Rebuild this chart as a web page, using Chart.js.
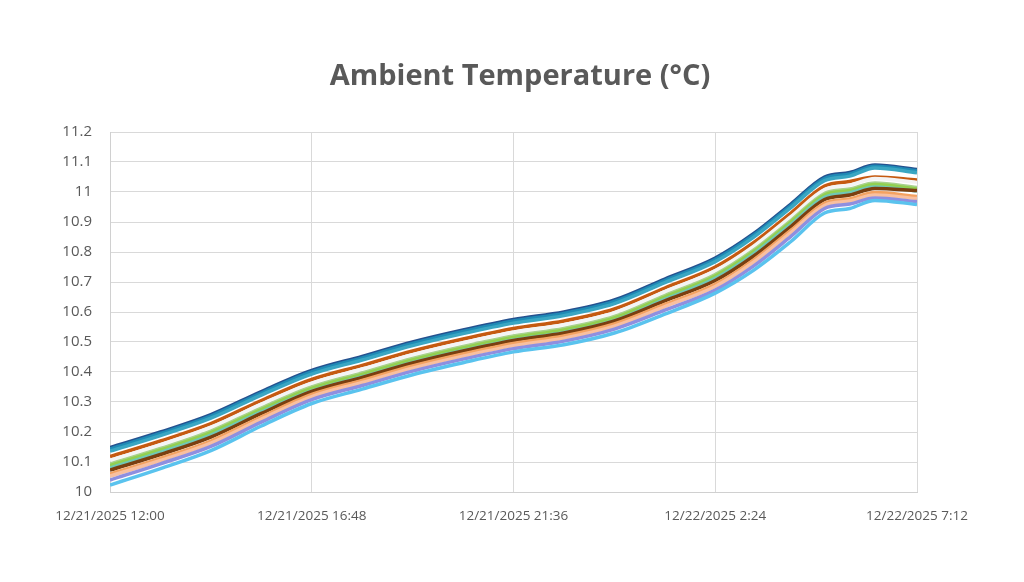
<!DOCTYPE html>
<html lang="en">
<head>
    <meta charset="UTF-8">
    <title>Ambient Temperature</title>
    <script src="https://cdn.jsdelivr.net/npm/chart.js"></script>
    <style>
        body { margin: 0; background: #fff; }
    </style>
</head>
<body>
    <canvas id="tempChart" width="1024" height="582"></canvas>

    <script>
        // hours after 12/21/2025 12:00
        const hours = [0, 1.2, 2.4, 3.6, 4.8, 6, 7.2, 8.4, 9.6, 10.8, 12, 13.2, 14.4, 15.3, 16.2, 17, 17.6, 18.2, 19.2];

        const xTickValues = [0, 4.8, 9.6, 14.4, 19.2];
        const xTickLabels = ["12/21/2025 12:00", "12/21/2025 16:48", "12/21/2025 21:36", "12/22/2025 2:24", "12/22/2025 7:12"];

        // one array per sensor (top to bottom)
        const sensor1 = [10.148, 10.200, 10.258, 10.335, 10.405, 10.452, 10.500, 10.540, 10.575, 10.600, 10.640, 10.710, 10.780, 10.860, 10.960, 11.050, 11.065, 11.090, 11.075];
        const sensor2 = [10.143, 10.195, 10.253, 10.330, 10.400, 10.447, 10.495, 10.535, 10.570, 10.595, 10.635, 10.705, 10.775, 10.855, 10.955, 11.045, 11.060, 11.086, 11.071];
        const sensor3 = [10.136, 10.188, 10.246, 10.323, 10.393, 10.440, 10.488, 10.528, 10.563, 10.588, 10.628, 10.698, 10.768, 10.848, 10.948, 11.038, 11.053, 11.080, 11.064];
        const sensor4 = [10.118, 10.170, 10.228, 10.305, 10.375, 10.422, 10.470, 10.510, 10.545, 10.570, 10.610, 10.680, 10.750, 10.830, 10.930, 11.020, 11.035, 11.050, 11.040];
        const sensor5 = [10.106, 10.158, 10.216, 10.293, 10.363, 10.410, 10.458, 10.498, 10.533, 10.558, 10.598, 10.668, 10.738, 10.818, 10.918, 11.008, 11.023, 11.045, 11.032];
        const sensor6 = [10.093, 10.145, 10.203, 10.280, 10.350, 10.397, 10.445, 10.485, 10.520, 10.545, 10.585, 10.655, 10.725, 10.805, 10.905, 10.995, 11.010, 11.030, 11.015];
        const sensor7 = [10.088, 10.140, 10.198, 10.275, 10.345, 10.392, 10.440, 10.480, 10.515, 10.540, 10.580, 10.650, 10.720, 10.800, 10.900, 10.990, 11.005, 11.025, 11.010];
        const sensor8 = [10.080, 10.132, 10.190, 10.267, 10.337, 10.384, 10.432, 10.472, 10.507, 10.532, 10.572, 10.642, 10.712, 10.792, 10.892, 10.982, 10.997, 11.017, 11.003];
        const sensor9 = [10.073, 10.125, 10.183, 10.262, 10.335, 10.382, 10.430, 10.470, 10.505, 10.530, 10.570, 10.637, 10.705, 10.785, 10.885, 10.975, 10.990, 11.012, 11.005];
        const sensor10 = [10.060, 10.112, 10.170, 10.250, 10.325, 10.372, 10.420, 10.460, 10.495, 10.520, 10.560, 10.625, 10.692, 10.772, 10.872, 10.962, 10.977, 10.998, 10.985];
        const sensor11 = [10.053, 10.105, 10.163, 10.243, 10.318, 10.365, 10.413, 10.453, 10.488, 10.513, 10.553, 10.618, 10.685, 10.765, 10.865, 10.955, 10.970, 10.990, 10.978];
        const sensor12 = [10.040, 10.094, 10.152, 10.233, 10.308, 10.355, 10.403, 10.443, 10.478, 10.503, 10.543, 10.606, 10.673, 10.752, 10.852, 10.945, 10.960, 10.980, 10.968];
        const sensor13 = [10.023, 10.078, 10.138, 10.220, 10.295, 10.343, 10.391, 10.431, 10.467, 10.491, 10.530, 10.593, 10.663, 10.738, 10.835, 10.930, 10.945, 10.972, 10.958];

        // drawn bottom first so the upper lines sit on top
        const sensors = [sensor13, sensor12, sensor11, sensor10, sensor9, sensor8, sensor7, sensor6, sensor5, sensor4, sensor3, sensor2, sensor1];
        const colors = ["#5ac3ee", "#8e8fe0", "#f8c0a0", "#f4a261", "#7b3f10", "#6fc7b6", "#92d050", "#a9d18e", "#f4f4f4", "#c55a11", "#3aa6c2", "#1f8ab5", "#25518f"];

        const titleText = "Ambient Temperature (°C)";
        const textColor = "#595959";

        // title centred on the whole canvas, not the plot
        const titlePlugin = {
            id: "pageTitle",
            afterDraw(chart) {
                const c = chart.ctx;
                c.save();
                c.font = "bold 29px 'Open Sans'";
                c.fillStyle = textColor;
                c.textAlign = "center";
                c.textBaseline = "middle";
                c.fillText(titleText, 520, 77);
                c.restore();
            }
        };

        const ctx = document.getElementById("tempChart").getContext("2d");

        new Chart(ctx, {
            type: "line",
            data: {
                datasets: sensors.map((vals, i) => ({
                    data: vals.map((v, j) => ({ x: hours[j], y: v })),
                    borderColor: colors[i],
                    borderWidth: 3.5,
                    pointRadius: 0,
                    cubicInterpolationMode: "monotone",
                    fill: false
                }))
            },
            options: {
                responsive: false,
                animation: false,
                layout: { padding: { left: 0, right: 107, top: 132, bottom: 0 } },
                plugins: {
                    legend: { display: false },
                    tooltip: { enabled: false },
                    title: { display: false }
                },
                scales: {
                    x: {
                        type: "linear",
                        min: 0,
                        max: 19.2,
                        afterBuildTicks: axis => {
                            axis.ticks = xTickValues.map(v => ({ value: v }));
                        },
                        afterFit: axis => { axis.height = 90; },
                        ticks: {
                            color: textColor,
                            font: { family: "Open Sans", size: 13.5 },
                            maxRotation: 0,
                            padding: 16,
                            callback: (v, i) => xTickLabels[i]
                        },
                        grid: { color: "#d9d9d9", drawTicks: false },
                        border: { color: "#d0d0d0" }
                    },
                    y: {
                        min: 10,
                        max: 11.2,
                        afterFit: axis => { axis.width = 110; },
                        ticks: {
                            stepSize: 0.1,
                            color: textColor,
                            font: { family: "Open Sans", size: 15 },
                            padding: 18,
                            callback: v => String(Number(v.toFixed(1)))
                        },
                        grid: { color: "#d9d9d9", drawTicks: false },
                        border: { color: "#d0d0d0" }
                    }
                }
            },
            plugins: [titlePlugin]
        });
    </script>
</body>
</html>
